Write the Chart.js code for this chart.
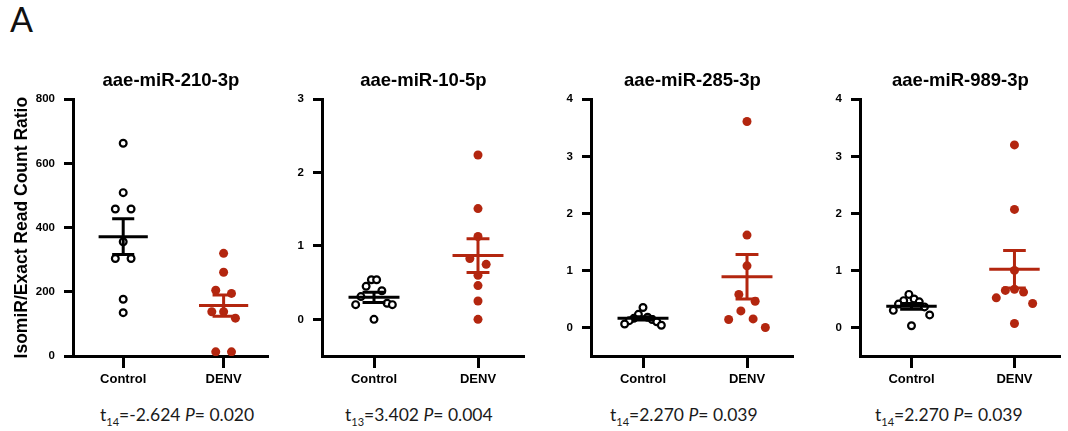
<!DOCTYPE html>
<html>
<head>
<meta charset="utf-8">
<script src="https://cdn.jsdelivr.net/npm/chart.js@4.4.1/dist/chart.umd.min.js"></script>
<style>
    body { margin: 0; width: 1068px; height: 431px; background: #fff; position: relative; overflow: hidden; }
    canvas.panel { position: absolute; top: 60px; }
    .stat { position: absolute; top: 404px; font-family: Lato, "Open Sans", sans-serif; font-size: 17.5px; color: #1a1a1a; white-space: nowrap; }
    .stat sub { font-size: 11px; }
    #letter { position: absolute; left: 10px; top: -2px; font-family: Lato, sans-serif; font-size: 34px; color: #111; }
</style>
</head>
<body>
<div id="letter">A</div>
<canvas id="p1" class="panel" width="275" height="340" style="left:0px"></canvas>
<canvas id="p2" class="panel" width="256" height="340" style="left:275px"></canvas>
<canvas id="p3" class="panel" width="260" height="340" style="left:540px"></canvas>
<canvas id="p4" class="panel" width="259" height="340" style="left:808px"></canvas>
<div class="stat" style="left:100px">t<sub>14</sub>=-2.624 <i>P</i>= 0.020</div>
<div class="stat" style="left:345px">t<sub>13</sub>=3.402 <i>P</i>= 0.004</div>
<div class="stat" style="left:610px">t<sub>14</sub>=2.270 <i>P</i>= 0.039</div>
<div class="stat" style="left:875px">t<sub>14</sub>=2.270 <i>P</i>= 0.039</div>
<script>
// groups on the x axis
const groups = ['Control', 'DENV'];

// aae-miR-210-3p
const control210 = [663, 509, 458, 458, 356, 304, 304, 177, 135];
const denv210 = [320, 261, 205, 195, 138, 138, 118, 13, 13];
const mean210 = [372, 157];
const sem210 = [56, 33];
const ticks210 = [0, 200, 400, 600, 800];

// aae-miR-10-5p
const control10 = [0.54, 0.54, 0.45, 0.39, 0.31, 0.22, 0.20, 0.20, 0.0];
const denv10 = [2.24, 1.51, 1.13, 0.83, 0.75, 0.60, 0.46, 0.25, 0.0];
const mean10 = [0.30, 0.87];
const sem10 = [0.07, 0.23];
const ticks10 = [0, 1, 2, 3];

// aae-miR-285-3p
const control285 = [0.35, 0.23, 0.18, 0.16, 0.14, 0.12, 0.10, 0.06, 0.04];
const denv285 = [3.61, 1.62, 1.08, 0.58, 0.46, 0.29, 0.15, 0.14, 0.0];
const mean285 = [0.16, 0.89];
const sem285 = [0.03, 0.39];
const ticks285 = [0, 1, 2, 3, 4];

// aae-miR-989-3p
const control989 = [0.58, 0.50, 0.47, 0.45, 0.41, 0.36, 0.30, 0.22, 0.03];
const denv989 = [3.20, 2.07, 1.00, 0.67, 0.65, 0.62, 0.52, 0.42, 0.07];
const mean989 = [0.37, 1.02];
const sem989 = [0.05, 0.33];
const ticks989 = [0, 1, 2, 3, 4];

const red = '#b3260f';
const black = '#000';
const PLOT_H = 256.7;   // px of the plotting area
const X_PX = 102;       // px per group step

Chart.defaults.font.family = '"Liberation Sans", Arial, sans-serif';
Chart.defaults.color = '#000';

// spread points that would overlap into a small symmetric cluster
function spread(vals, yMin, yMax) {
    const yPx = PLOT_H / (yMax - yMin);
    const idx = vals.map((v, i) => i).sort((a, b) => vals[b] - vals[a]);
    const offs = new Array(vals.length).fill(0);
    let cluster = [idx[0]];
    const flush = () => {
        const k = cluster.length;
        if (k > 1) {
            const step = k <= 2 ? 16 : Math.min(12, 36 / (k - 1));
            const slots = [];
            for (let j = 0; j < k; j++) slots.push((j - (k - 1) / 2) * step);
            slots.sort((a, b) => Math.abs(a) - Math.abs(b) || a - b);
            cluster.forEach((p, j) => offs[p] = slots[j] / X_PX);
        }
    };
    for (let n = 1; n < idx.length; n++) {
        const prev = idx[n - 1], cur = idx[n];
        if ((vals[prev] - vals[cur]) * yPx < 8) {
            cluster.push(cur);
        } else {
            flush();
            cluster = [cur];
        }
    }
    flush();
    return offs;
}

function seg(points, colour) {
    return {
        data: points,
        showLine: true,
        borderColor: colour,
        borderWidth: 3,
        pointRadius: 0,
        order: 0
    };
}

function drawPanel(id, title, ctrl, denv, mean, sem, yTicks, yMin, yMax, axisW, yTitle) {
    const jc = spread(ctrl, yMin, yMax);
    const jd = spread(denv, yMin, yMax);
    const colours = [black, red];

    const datasets = [];
    [0, 1].forEach(g => {
        const m = mean[g], s = sem[g], c = colours[g];
        datasets.push(seg([{x: g - 0.245, y: m}, {x: g + 0.245, y: m}], c));
        datasets.push(seg([{x: g, y: m - s}, {x: g, y: m + s}], c));
        datasets.push(seg([{x: g - 0.11, y: m + s}, {x: g + 0.11, y: m + s}], c));
        datasets.push(seg([{x: g - 0.11, y: m - s}, {x: g + 0.11, y: m - s}], c));
    });
    datasets.push({
        data: ctrl.map((v, i) => ({x: 0 + jc[i], y: v})),
        pointRadius: 3.4,
        pointBorderWidth: 2.2,
        pointBackgroundColor: '#fff',
        pointBorderColor: black,
        order: 1
    });
    datasets.push({
        data: denv.map((v, i) => ({x: 1 + jd[i], y: v})),
        pointRadius: 4.5,
        pointBorderWidth: 0,
        pointBackgroundColor: red,
        pointBorderColor: red,
        order: 1
    });

    new Chart(document.getElementById(id), {
        type: 'scatter',
        data: { datasets },
        options: {
            responsive: false,
            animation: false,
            devicePixelRatio: 1,
            layout: { padding: { left: 0, right: 5, top: 0, bottom: 0 } },
            plugins: {
                legend: { display: false },
                tooltip: { enabled: false },
                title: {
                    display: true,
                    text: title,
                    fullSize: false,
                    color: '#000',
                    font: { size: 18.5, weight: 'bold' },
                    padding: { top: 9.9, bottom: 7.2 }
                }
            },
            scales: {
                x: {
                    type: 'linear',
                    min: -0.5,
                    max: 1.45,
                    afterBuildTicks: s => { s.ticks = [{value: 0}, {value: 1}]; },
                    afterFit: s => { s.height = 44; },
                    ticks: {
                        autoSkip: false,
                        maxRotation: 0,
                        padding: 4,
                        color: '#000',
                        font: { size: 13, weight: 'bold' },
                        callback: v => groups[v]
                    },
                    grid: { drawOnChartArea: false, tickLength: 12, tickWidth: 3, tickColor: '#000' },
                    border: { display: true, color: '#000', width: 3 }
                },
                y: {
                    min: yMin,
                    max: yMax,
                    afterBuildTicks: s => { s.ticks = yTicks.map(v => ({value: v})); },
                    afterFit: s => { s.width = axisW; },
                    ticks: {
                        padding: 9,
                        color: '#000',
                        font: { size: 11.5, weight: 'bold' },
                        callback: v => String(v)
                    },
                    grid: { drawOnChartArea: false, tickLength: 9, tickWidth: 3, tickColor: '#000' },
                    border: { display: true, color: '#000', width: 3 },
                    title: {
                        display: !!yTitle,
                        text: yTitle || '',
                        color: '#000',
                        font: { size: 17.5, weight: 'bold' },
                        padding: { top: 11.5, bottom: 0 }
                    }
                }
            }
        }
    });
}

drawPanel('p1', 'aae-miR-210-3p', control210, denv210, mean210, sem210, ticks210, 0, 800, 73, 'IsomiR/Exact Read Count Ratio');
drawPanel('p2', 'aae-miR-10-5p', control10, denv10, mean10, sem10, ticks10, -0.5, 3, 47, null);
drawPanel('p3', 'aae-miR-285-3p', control285, denv285, mean285, sem285, ticks285, -0.5, 4, 51, null);
drawPanel('p4', 'aae-miR-989-3p', control989, denv989, mean989, sem989, ticks989, -0.5, 4, 52, null);
</script>
</body>
</html>
